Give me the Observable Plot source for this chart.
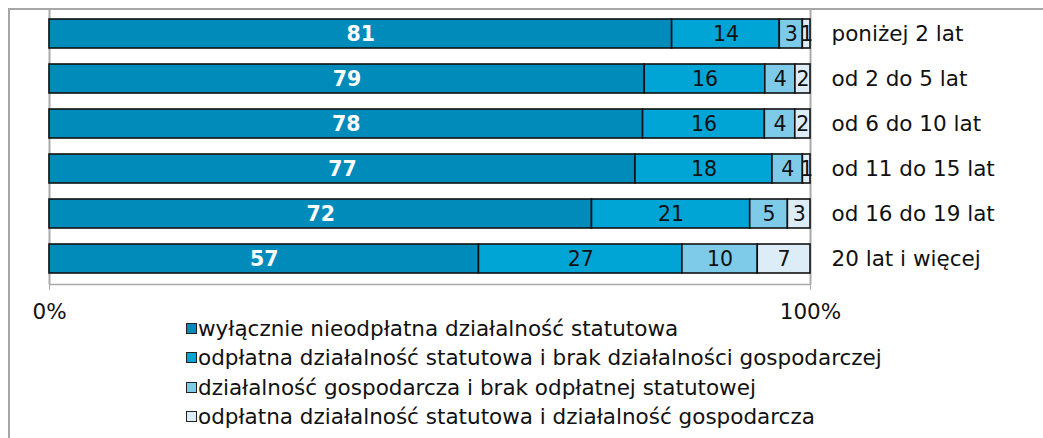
<!DOCTYPE html>
<html>
<head>
<meta charset="utf-8">
<script src="https://cdn.jsdelivr.net/npm/d3@7"></script>
<script src="https://cdn.jsdelivr.net/npm/@observablehq/plot@0.6"></script>
<style>
  html, body { margin: 0; padding: 0; background: #fff; }
  #wrap { position: relative; width: 1043px; height: 438px; overflow: hidden; font-family: "DejaVu Sans", Verdana, sans-serif; }
  #frame { position: absolute; left: 8px; top: 8px; right: -10px; bottom: -10px; border-top: 2px solid #a6a6a6; border-left: 2px solid #a6a6a6; }
  #chart { position: absolute; left: 0; top: 0; }
  #legend { position: absolute; left: 186px; top: 314px; font-size: 21.5px; color: #111; line-height: 29.3px; }
  .item { display: flex; align-items: center; white-space: nowrap; }
  .sw { width: 9px; height: 9px; border: 1.5px solid #222; margin-right: 1px; flex: none; }
</style>
</head>
<body>
<div id="wrap">
  <div id="frame"></div>
  <div id="chart"></div>
  <div id="legend"></div>
</div>
<script>
const categories = ["poniżej 2 lat", "od 2 do 5 lat", "od 6 do 10 lat", "od 11 do 15 lat", "od 16 do 19 lat", "20 lat i więcej"];
const seriesNames = [
  "wyłącznie nieodpłatna działalność statutowa",
  "odpłatna działalność statutowa i brak działalności gospodarczej",
  "działalność gospodarcza i brak odpłatnej statutowej",
  "odpłatna działalność statutowa i działalność gospodarcza"
];
const s1 = [81, 79, 78, 77, 72, 57];
const s2 = [14, 16, 16, 18, 21, 27];
const s3 = [3, 4, 4, 4, 5, 10];
const s4 = [1, 2, 2, 1, 3, 7];
const colors = ["#008bba", "#00a5d6", "#7ecae9", "#dcedf8"];
const xTicks = [0, 1];

const seriesValues = [s1, s2, s3, s4];
const rows = [];
categories.forEach((c, i) => {
  seriesValues.forEach((vals, j) => {
    rows.push({cat: c, series: seriesNames[j], idx: j, value: vals[i]});
  });
});

const stackOpts = {x: "value", y: "cat", z: "series", offset: "normalize", order: null};

const plot = Plot.plot({
  width: 1043,
  height: 330,
  marginLeft: 49,
  marginRight: 233,
  marginTop: 9,
  marginBottom: 46,
  style: {fontFamily: "DejaVu Sans, Verdana, sans-serif", background: "transparent"},
  x: {domain: [0, 1], axis: null},
  y: {domain: categories, paddingInner: 0.35, paddingOuter: 0.175, axis: null},
  color: {domain: seriesNames, range: colors},
  marks: [
    Plot.frame({anchor: "bottom", stroke: "#aaa", strokeWidth: 1.5}),
    Plot.ruleX(xTicks, {stroke: "#aaa", strokeWidth: 2}),
    Plot.axisX({ticks: xTicks, tickSize: 6, stroke: "#aaa", tickFormat: d3.format(".0%"), tickPadding: 13, fontSize: 21.5, fill: "#111", label: null}),
    Plot.axisY({anchor: "right", tickSize: 0, tickPadding: 21, fontSize: 21.5, fill: "#111", label: null}),
    Plot.barX(rows, Plot.stackX({...stackOpts, fill: "series", stroke: "#111", strokeWidth: 1.6})),
    Plot.text(rows, Plot.stackX({...stackOpts, text: d => d.idx === 0 ? String(d.value) : null, fill: "white", fontWeight: "bold", fontSize: 20.5})),
    Plot.text(rows, Plot.stackX({...stackOpts, text: d => d.idx > 0 ? String(d.value) : null, fill: "#111", fontSize: 20.5}))
  ]
});
document.getElementById("chart").appendChild(plot);

const legend = document.getElementById("legend");
seriesNames.forEach((name, j) => {
  const item = document.createElement("div");
  item.className = "item";
  const sw = document.createElement("span");
  sw.className = "sw";
  sw.style.background = colors[j];
  const label = document.createElement("span");
  label.textContent = name;
  item.appendChild(sw);
  item.appendChild(label);
  legend.appendChild(item);
});
</script>
</body>
</html>
